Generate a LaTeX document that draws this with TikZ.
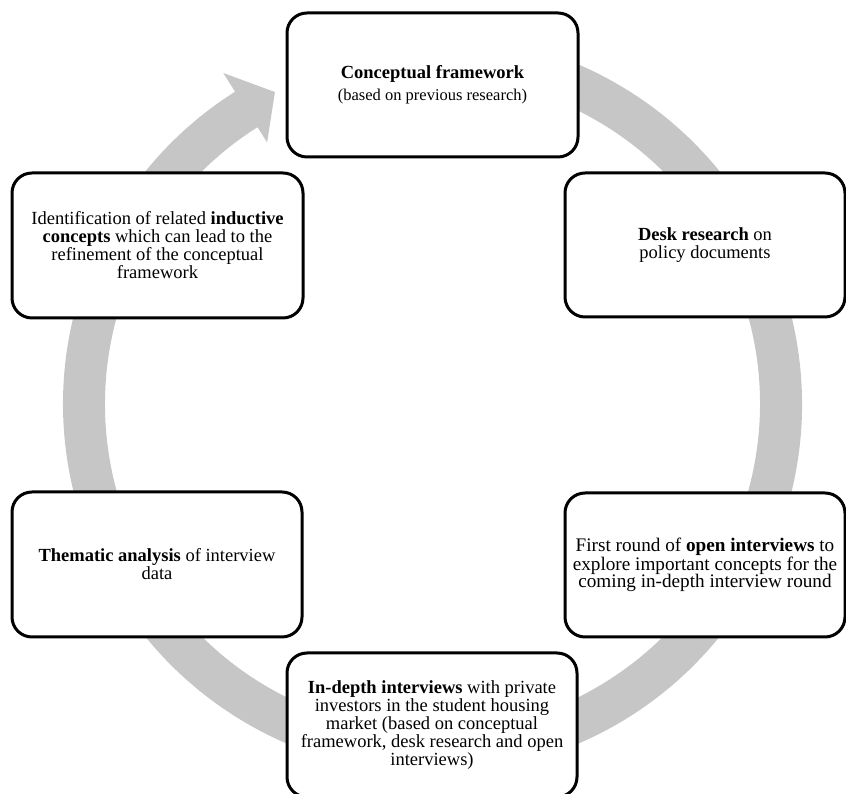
\documentclass[tikz,border=0pt]{standalone}
\usepackage{fontspec}
\setmainfont{Liberation Serif}
\definecolor{ringgray}{RGB}{198,198,198}
\tikzset{
  stagebox/.style={draw=black, line width=3pt, rounded corners=20pt, fill=white,
    align=center, inner sep=0pt, font=\fontsize{18.5}{18}\selectfont},
}
\begin{document}
\begin{tikzpicture}[x=1pt,y=1pt]
\useasboundingbox (0,0) rectangle (846,794);
\clip (0,0) rectangle (846,794);
% circular arrow
\begin{scope}[shift={(432.5,390)}]
\fill[ringgray] (100:369.5) arc[start angle=100, end angle=-237.7, radius=369.5]
  -- (122.3:391.6) -- (116.8:349.5) -- (122.3:309.5) -- (122.3:327.5)
  arc[start angle=-237.7, end angle=100, radius=327.5] -- cycle;
\end{scope}
% boxes
\node[stagebox, minimum width=291pt, minimum height=144pt, font=\fontsize{18.5}{21.7}\selectfont]
  (cf) at (432.5,709) {\textbf{Conceptual framework}\\{\fontsize{16.5}{21.7}\selectfont (based on previous research)}};
\node[stagebox, minimum width=280pt, minimum height=144pt]
  (desk) at (705,549) {\textbf{Desk research} on\\policy documents};
\node[stagebox, minimum width=280pt, minimum height=144pt, font=\fontsize{19.2}{17.6}\selectfont]
  (open) at (705,229) {First round of \textbf{open interviews} to\\explore important concepts for the\\coming in-depth interview round};
\node[stagebox, minimum width=290pt, minimum height=144pt]
  (indepth) at (432,69) {\textbf{In-depth interviews} with private\\investors in the student housing\\market (based on conceptual\\framework, desk research and open\\interviews)};
\node[stagebox, minimum width=290pt, minimum height=145pt]
  (thematic) at (157,229.5) {\textbf{Thematic analysis} of interview\\data};
\node[stagebox, minimum width=291pt, minimum height=145pt]
  (induct) at (157.5,548.5) {Identification of related \textbf{inductive}\\\textbf{concepts} which can lead to the\\refinement of the conceptual\\framework};
\end{tikzpicture}
\end{document}
